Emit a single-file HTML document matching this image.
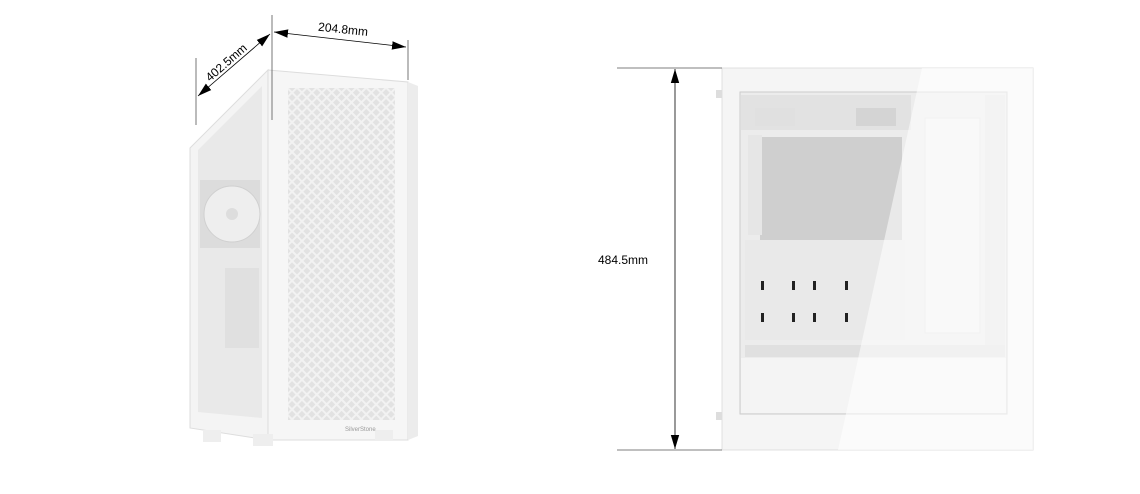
<!DOCTYPE html>
<html><head><style>html,body{margin:0;padding:0;background:#fff;}svg{display:block}</style></head><body>
<svg width="1140" height="494" viewBox="0 0 1140 494" xmlns="http://www.w3.org/2000/svg" font-family="Liberation Sans, sans-serif">
<defs>
<pattern id="mesh" width="7" height="7" patternUnits="userSpaceOnUse" patternTransform="rotate(45)">
<rect width="7" height="7" fill="#f2f2f2"/><rect width="5" height="5" fill="#e2e2e2"/>
</pattern>
<marker id="ar" viewBox="0 0 10 10" refX="10" refY="5" markerWidth="14" markerHeight="14" markerUnits="userSpaceOnUse" orient="auto-start-reverse"><path d="M0,2 L10,5 L0,8 z" fill="#000"/></marker>
</defs>
<!-- left case -->
<polygon points="190,148 268,70 268,440 190,428" fill="#f4f4f4" stroke="#ddd"/>
<polygon points="198,150 262,86 262,418 198,412" fill="#e9e9e9"/>
<rect x="200" y="180" width="60" height="68" fill="#dcdcdc"/>
<circle cx="232" cy="214" r="28" fill="#eee" stroke="#d0d0d0"/>
<circle cx="232" cy="214" r="6" fill="#ddd"/>
<rect x="225" y="268" width="34" height="80" fill="#e0e0e0"/>
<polygon points="268,70 408,82 408,440 268,440" fill="#f6f6f6" stroke="#ddd"/>
<polygon points="408,82 418,86 418,436 408,440" fill="#ececec"/>
<rect x="288" y="88" width="107" height="332" fill="url(#mesh)"/>
<rect x="203" y="430" width="18" height="12" fill="#eee"/>
<rect x="253" y="434" width="20" height="12" fill="#eee"/>
<rect x="375" y="430" width="18" height="10" fill="#eee"/>
<text x="345" y="431" font-size="6" fill="#999">SilverStone</text>
<!-- left dims -->
<line x1="272" y1="15" x2="272" y2="120" stroke="#555" stroke-width="0.8"/>
<line x1="408" y1="40" x2="408" y2="80" stroke="#555" stroke-width="0.8"/>
<line x1="196" y1="58" x2="196" y2="125" stroke="#555" stroke-width="0.8"/>
<line x1="274" y1="32" x2="406" y2="47" stroke="#000" stroke-width="0.8" marker-start="url(#ar)" marker-end="url(#ar)"/>
<line x1="198" y1="96" x2="270" y2="34" stroke="#000" stroke-width="0.8" marker-start="url(#ar)" marker-end="url(#ar)"/>
<text x="318" y="33" font-size="12" transform="rotate(6 340 30)">204.8mm</text>
<text x="0" y="0" font-size="12" transform="translate(210,82) rotate(-41)">402.5mm</text>
<!-- right case -->
<rect x="722" y="68" width="311" height="382" fill="#f5f5f5" stroke="#e0e0e0"/>
<rect x="740" y="92" width="267" height="322" fill="#ececec" stroke="#ccc"/>
<rect x="741" y="95" width="170" height="35" fill="#e2e2e2"/>
<rect x="755" y="108" width="40" height="18" fill="#e0e0e0"/>
<rect x="856" y="108" width="40" height="18" fill="#d4d4d4"/>
<rect x="760" y="137" width="142" height="105" fill="#cfcfcf"/>
<rect x="748" y="135" width="14" height="100" fill="#e6e6e6"/>
<rect x="745" y="240" width="160" height="100" fill="#e9e9e9"/>
<g fill="#222">
<rect x="761" y="281" width="3" height="9"/><rect x="792" y="281" width="3" height="9"/><rect x="813" y="281" width="3" height="9"/><rect x="845" y="281" width="3" height="9"/>
<rect x="761" y="313" width="3" height="9"/><rect x="792" y="313" width="3" height="9"/><rect x="813" y="313" width="3" height="9"/><rect x="845" y="313" width="3" height="9"/>
</g>
<rect x="925" y="118" width="55" height="215" fill="#f2f2f2" stroke="#e0e0e0"/>
<rect x="985" y="95" width="20" height="250" fill="#e4e4e4"/>
<rect x="745" y="345" width="260" height="12" fill="#e0e0e0"/>
<rect x="741" y="358" width="265" height="55" fill="#f4f4f4"/>
<polygon points="922,68 1033,68 1033,450 838,450" fill="#fff" opacity="0.55"/>
<rect x="716" y="90" width="6" height="8" fill="#ddd"/>
<rect x="716" y="412" width="6" height="8" fill="#ddd"/>
<!-- right dim -->
<line x1="617" y1="68" x2="722" y2="68" stroke="#555" stroke-width="0.8"/>
<line x1="617" y1="450" x2="722" y2="450" stroke="#555" stroke-width="0.8"/>
<line x1="675" y1="69" x2="675" y2="449" stroke="#000" stroke-width="0.8" marker-start="url(#ar)" marker-end="url(#ar)"/>
<text x="598" y="264" font-size="12">484.5mm</text>
</svg>
</body></html>
